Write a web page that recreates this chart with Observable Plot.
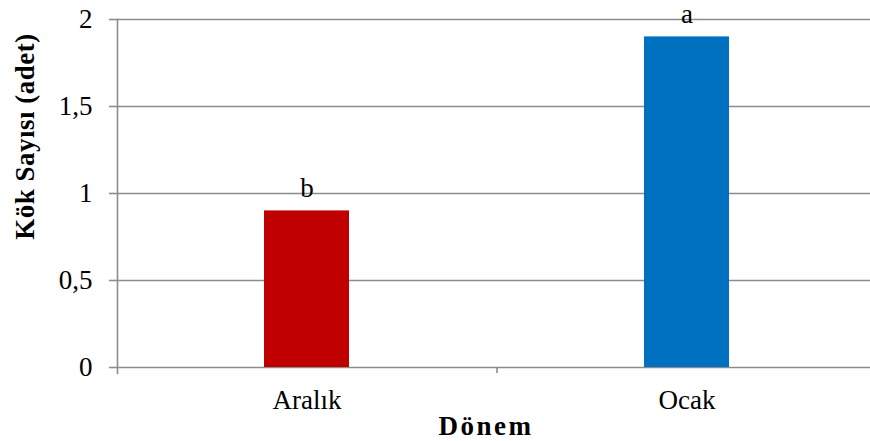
<!DOCTYPE html>
<html><head><meta charset="utf-8">
<script src="https://cdn.jsdelivr.net/npm/d3@7"></script>
<script src="https://cdn.jsdelivr.net/npm/@observablehq/plot@0.6"></script>
<style>body{margin:0;background:#fff;}</style>
</head><body><div id="chart"></div>
<script>
const categories = ["Aralık", "Ocak"];
const values = [0.9, 1.9];
const letters = ["b", "a"];
const colors = ["#C00000", "#0070C0"];
const yTicks = [0, 0.5, 1, 1.5, 2];
const xTitle = "Dönem";
const yTitle = "Kök Sayısı (adet)";

const data = categories.map((c, i) => ({cat: c, value: values[i], letter: letters[i]}));
const W = 870, H = 441, xRange = [117, 877];
const step = (xRange[1] - xRange[0]) / categories.length;
const grid = "#8c8c8c";
const serif = "Liberation Serif";
const fs = 27;

const chart = Plot.plot({
  width: W, height: H,
  marginLeft: 117, marginRight: 0, marginTop: 19, marginBottom: 74,
  style: {fontFamily: serif, fontSize: fs + "px", color: "#000", background: "#fff"},
  x: {type: "band", domain: categories, range: xRange, paddingInner: 0.776, paddingOuter: 0.388, align: 0.5},
  y: {domain: [0, 2]},
  color: {domain: categories, range: colors},
  marks: [
    Plot.ruleY(yTicks, {stroke: grid, strokeWidth: 1.6}),
    Plot.barY(data, {x: "cat", y: "value", fill: "cat"}),
    Plot.frame({anchor: "left", stroke: grid, strokeWidth: 1.6, insetBottom: -6}),
    Plot.axisY(yTicks, {tickSize: 8, tickPadding: 17, stroke: grid, strokeWidth: 1.6,
      tickFormat: d => String(d).replace(".", ","), label: null, fontSize: fs, fontFamily: serif}),
    Plot.axisX({tickSize: 0, tickPadding: 22, label: null, fontSize: fs, fontFamily: serif}),
    Plot.ruleX(categories.slice(0, -1), {x: d => d, y1: 0, y2: 0, insetBottom: -6, dx: step / 2, stroke: grid, strokeWidth: 1.6}),
    Plot.text(data, {x: "cat", y: "value", text: "letter", dy: -23, fontSize: fs, fontFamily: serif}),
    Plot.text([xTitle], {frameAnchor: "bottom", text: d => d, dy: 67, dx: -8, fontWeight: "bold", fontSize: fs, fontFamily: serif, className: "xt"}),
    Plot.text([yTitle], {frameAnchor: "left", text: d => d, rotate: -90, textAnchor: "middle", lineAnchor: "middle",
      dx: -92, dy: -57, fontWeight: "bold", fontSize: fs, fontFamily: serif, className: "yt"})
  ]
});
document.getElementById("chart").appendChild(chart);
d3.select(chart).selectAll(".xt text").style("letter-spacing", "2.5px");
d3.select(chart).selectAll(".yt text").style("letter-spacing", "0.5px");
</script>
</body></html>
